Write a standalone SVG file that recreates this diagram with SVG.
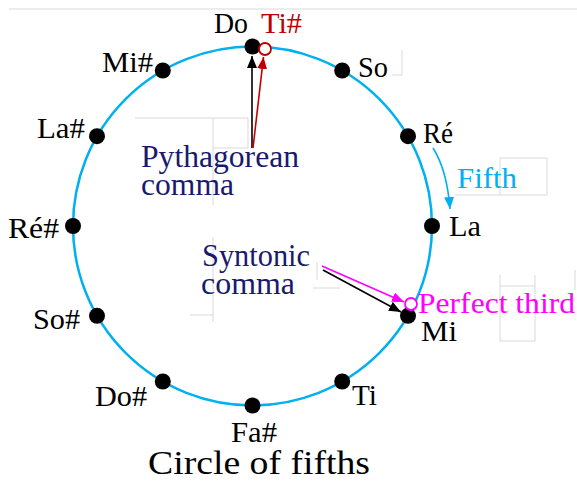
<svg xmlns="http://www.w3.org/2000/svg" width="577" height="485" viewBox="0 0 577 485">
<style>
  .lbl { font-family: "Liberation Serif", "Times New Roman", serif; font-size: 30px; fill: #000; }
  .note { font-family: "Liberation Serif", "Times New Roman", serif; font-size: 31px; fill: #191970; }
  .dot { fill: #000; }
  .ghost { stroke: #d9d9d9; stroke-width: 1; fill: none; }
</style>
<defs>
  <marker id="ahBlack" viewBox="0 0 12 10" refX="12" refY="5" markerWidth="12" markerHeight="10" markerUnits="userSpaceOnUse" orient="auto">
    <path d="M0,0 L12,5 L0,10 Z" fill="#000"/>
  </marker>
  <marker id="ahRed" viewBox="0 0 12 10" refX="12" refY="5" markerWidth="12" markerHeight="10" markerUnits="userSpaceOnUse" orient="auto">
    <path d="M0,0 L12,5 L0,10 Z" fill="#c00000"/>
  </marker>
  <marker id="ahMag" viewBox="0 0 12 10" refX="12" refY="5" markerWidth="12" markerHeight="10" markerUnits="userSpaceOnUse" orient="auto">
    <path d="M0,0 L12,5 L0,10 Z" fill="#ff00ff"/>
  </marker>
  <marker id="ahCyan" viewBox="0 0 12 10" refX="12" refY="5" markerWidth="12" markerHeight="10" markerUnits="userSpaceOnUse" orient="auto">
    <path d="M0,0 L12,5 L0,10 Z" fill="#00b0f0"/>
  </marker>
</defs>
<rect width="577" height="485" fill="#fff"/>
<g id="artifacts">
  <path class="ghost" d="M9,9 H577"/>
  <path class="ghost" d="M135,118 H248 V148 H213 M213,118 V205"/>
  <path class="ghost" d="M500,158 H547 V195 H455 M500,158 V195"/>
  <path class="ghost" d="M213,237 V322 M190,315 H213 M313,288 H340 M317,262 V280"/>
  <path class="ghost" d="M500,275 V341 H535 V275 M500,286 H535 M575,270 V290"/>
  <path class="ghost" d="M402,50 V75 H392"/>
</g>
<circle cx="252.5" cy="226" r="179.5" fill="none" stroke="#00b0f0" stroke-width="2.5"/>
<g id="connectors">
  <line x1="252" y1="148" x2="252" y2="56" stroke="#000" stroke-width="1.6" marker-end="url(#ahBlack)"/>
  <line x1="253" y1="148" x2="263.5" y2="57" stroke="#c00000" stroke-width="1.6" marker-end="url(#ahRed)"/>
  <line x1="322" y1="266" x2="404" y2="302" stroke="#ff00ff" stroke-width="1.6" marker-end="url(#ahMag)"/>
  <line x1="323" y1="270" x2="401" y2="312" stroke="#000" stroke-width="1.6" marker-end="url(#ahBlack)"/>
  <path d="M433,148 Q447,170 450,209" fill="none" stroke="#00b0f0" stroke-width="1.6" marker-end="url(#ahCyan)"/>
</g>
<g id="node-Do"><circle class="dot" cx="252.5" cy="46.5" r="8"/><text class="lbl" x="214" y="33" textLength="34" lengthAdjust="spacingAndGlyphs">Do</text></g>
<g id="node-Tis"><circle cx="265" cy="49" r="6" fill="#fff" stroke="#c00000" stroke-width="1.8"/><text class="lbl" x="261" y="33" textLength="41" lengthAdjust="spacingAndGlyphs" style="fill:#c00000">Ti#</text></g>
<g id="node-So"><circle class="dot" cx="342.2" cy="70.5" r="8"/><text class="lbl" x="358" y="77" textLength="30" lengthAdjust="spacingAndGlyphs">So</text></g>
<g id="node-Re"><circle class="dot" cx="408" cy="136.2" r="8"/><text class="lbl" x="423" y="143" textLength="30" lengthAdjust="spacingAndGlyphs">Ré</text></g>
<g id="node-La"><circle class="dot" cx="432" cy="226" r="8"/><text class="lbl" x="449" y="236" textLength="32" lengthAdjust="spacingAndGlyphs">La</text></g>
<g id="node-Mi"><circle class="dot" cx="408" cy="315.8" r="8"/><text class="lbl" x="421" y="341" textLength="36" lengthAdjust="spacingAndGlyphs">Mi</text></g>
<g id="node-PerfectThird"><circle cx="411" cy="304" r="6" fill="#fff" stroke="#ff00ff" stroke-width="1.8"/><text class="lbl" x="418" y="313" textLength="157" lengthAdjust="spacingAndGlyphs" style="fill:#ff00ff;font-size:30px">Perfect third</text></g>
<g id="node-Ti"><circle class="dot" cx="342.2" cy="381.5" r="8"/><text class="lbl" x="352" y="405" textLength="25" lengthAdjust="spacingAndGlyphs">Ti</text></g>
<g id="node-Fas"><circle class="dot" cx="252.5" cy="405.5" r="8"/><text class="lbl" x="231" y="442" textLength="46" lengthAdjust="spacingAndGlyphs">Fa#</text></g>
<g id="node-Dos"><circle class="dot" cx="162.8" cy="381.5" r="8"/><text class="lbl" x="95" y="406" textLength="52" lengthAdjust="spacingAndGlyphs">Do#</text></g>
<g id="node-Sos"><circle class="dot" cx="97" cy="315.8" r="8"/><text class="lbl" x="33" y="329" textLength="47" lengthAdjust="spacingAndGlyphs">So#</text></g>
<g id="node-Res"><circle class="dot" cx="73" cy="226" r="8"/><text class="lbl" x="8" y="238" textLength="51" lengthAdjust="spacingAndGlyphs">Ré#</text></g>
<g id="node-Las"><circle class="dot" cx="97" cy="136.2" r="8"/><text class="lbl" x="37" y="138" textLength="48" lengthAdjust="spacingAndGlyphs">La#</text></g>
<g id="node-Mis"><circle class="dot" cx="162.8" cy="70.5" r="8"/><text class="lbl" x="102" y="72" textLength="51" lengthAdjust="spacingAndGlyphs">Mi#</text></g>
<g id="label-Fifth"><text class="lbl" x="457" y="188" textLength="60" lengthAdjust="spacingAndGlyphs" style="fill:#00b0f0;font-size:30px">Fifth</text></g>
<g id="label-Pythagorean">
  <text class="note" x="141" y="167" textLength="158" lengthAdjust="spacingAndGlyphs">Pythagorean</text>
  <text class="note" x="141" y="195" textLength="93" lengthAdjust="spacingAndGlyphs">comma</text>
</g>
<g id="label-Syntonic">
  <text class="note" x="202" y="266" textLength="108" lengthAdjust="spacingAndGlyphs">Syntonic</text>
  <text class="note" x="201" y="294" textLength="94" lengthAdjust="spacingAndGlyphs">comma</text>
</g>
<g id="title"><text class="lbl" x="148" y="474" textLength="222" lengthAdjust="spacingAndGlyphs" style="font-size:33px">Circle of fifths</text></g>
</svg>
